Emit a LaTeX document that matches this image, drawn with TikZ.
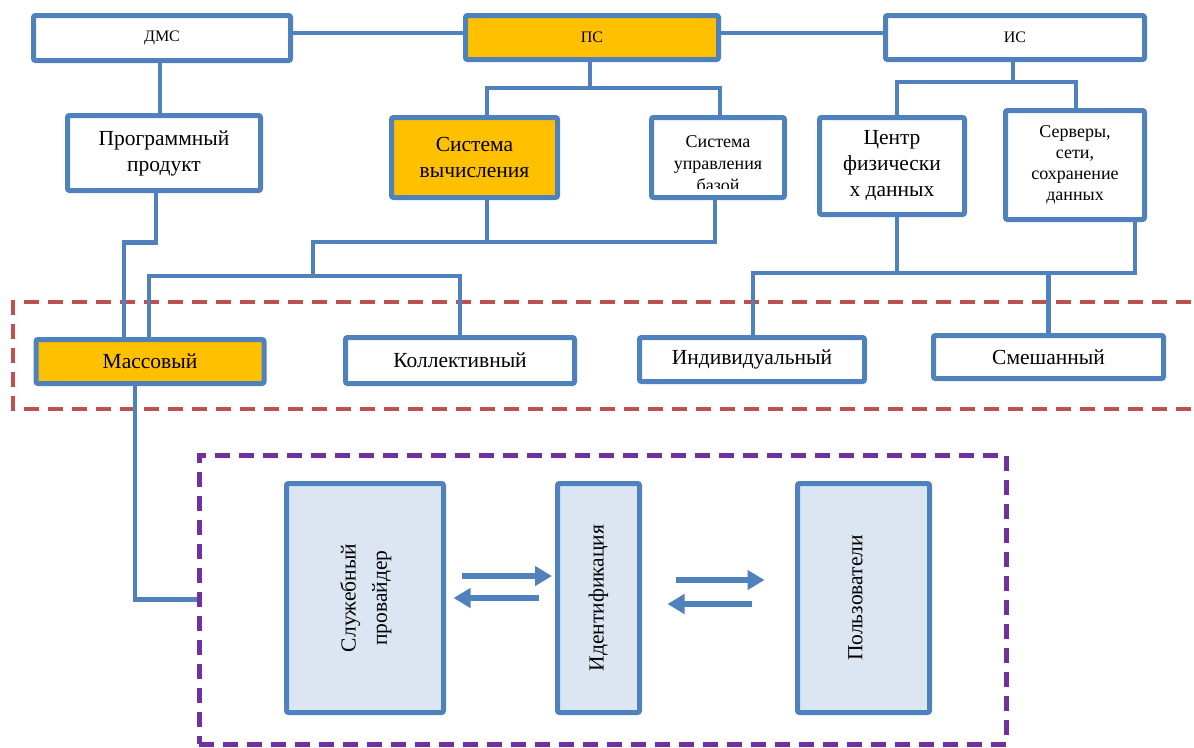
\documentclass[tikz,border=0pt]{standalone}
\usepackage{fontspec}
\setmainfont{Liberation Serif}
\usetikzlibrary{arrows.meta,calc}
\definecolor{bl}{HTML}{4F81BD}
\definecolor{orng}{HTML}{FFC000}
\definecolor{lb}{HTML}{DCE6F2}
\definecolor{rd}{HTML}{C0504D}
\definecolor{pp}{HTML}{7030A0}
\begin{document}
\begin{tikzpicture}[x=1pt,y=-1pt,
  box/.style={draw=bl, line width=5pt, rounded corners=2pt, fill=white, inner sep=0pt, align=center, text=black, font=\fontsize{21.5}{26}\selectfont},
  sz/.style 2 args={minimum width=#1pt, minimum height=#2pt},
  hl/.style={fill=orng},
  lblue/.style={fill=lb},
  small/.style={font=\fontsize{16}{18}\selectfont},
  conn/.style={draw=bl, line width=4.5pt},
  reddash/.style={draw=rd, line width=4.5pt, dash pattern=on 15pt off 9pt},
  purpdash/.style={draw=pp, line width=5pt, dash pattern=on 15pt off 9pt},
  arr/.style={draw=bl, line width=6pt, -{Triangle[length=17pt,width=19pt]}}
]
\useasboundingbox (0,0) rectangle (1194,747);
\clip (0,0) rectangle (1194,747);

% containers
\draw[reddash] (1215,302) -| (13,409) -- (1215,409);
\node[purpdash, inner sep=0pt, sz={807}{289}] (grp) at (602.5,599.5) {};

% top level
\node[box, small, sz={257}{45}] (dms) at (162,38) {ДМС};
\node[box, small, hl, sz={253}{44}] (ps) at (592,37.5) {ПС};
\node[box, small, sz={259}{44}] (is) at (1015,37.5) {ИС};

% second level
\node[box, sz={193}{75}] (prog) at (164,153) {Программный\\продукт};
\node[box, hl, sz={166}{80}] (sysv) at (474.5,157.5) {Система\\вычисления};
\node[box, sz={133}{80}] (sysu) at (718,157.5) {};
\begin{scope}
  \clip (651.5,117.5) rectangle (784.5,188);
  \node[font=\fontsize{18}{22}\selectfont, align=center, inner sep=0pt, anchor=north] (sysutext) at (718,135) {Система\\управления\\базой};
\end{scope}
\node[box, sz={145}{97}] (centr) at (892,166) {Центр\\физически\\х данных};
\node[box, font=\fontsize{18}{21}\selectfont, sz={139}{109}] (serv) at (1075,165) {Серверы,\\сети,\\сохранение\\данных};

% third level
\node[box, hl, sz={228}{44}] (mass) at (150,361.5) {Массовый};
\node[box, sz={229}{46}] (koll) at (460,360.5) {Коллективный};
\node[box, sz={225}{44}] (indiv) at (752,359.5) {Индивидуальный};
\node[box, sz={230}{43}] (smesh) at (1048.5,357) {Смешанный};

% bottom group
\node[box, lblue, sz={157}{229}] (prov) at (365,598) {\rotatebox{90}{\def\arraystretch{1.2}\begin{tabular}{@{}c@{}}Служебный\\провайдер\end{tabular}}};
\node[box, lblue, sz={82}{229}] (ident) at (598.5,598) {\rotatebox{90}{Идентификация}};
\node[box, lblue, sz={132}{229}] (users) at (863.5,598) {\rotatebox{90}{Пользователи}\rule{16pt}{0pt}};

% connectors top
\draw[conn] ([yshift=5pt]dms.east) -- ([yshift=4.5pt]ps.west);
\draw[conn] ([yshift=4.5pt]ps.east) -- ([yshift=4.5pt]is.west);
\draw[conn] ([xshift=-2pt]dms.south) -- ([xshift=-2pt]dms.south |- prog.north);

\coordinate (psj) at (590,88);
\draw[conn] (ps.south -| psj) -- (psj);
\draw[conn] ([xshift=12.5pt]sysv.north) |- (psj) -| ([xshift=2pt]sysu.north);

\coordinate (isj) at (1013,82);
\draw[conn] (is.south -| isj) -- (isj);
\draw[conn] ([xshift=5pt]centr.north) |- (isj) -| ([xshift=1pt]serv.north);

% connectors to third level
\draw[conn] ([xshift=-8pt]prog.south) -- ++(0,49.5) -| ([xshift=-26pt]mass.north);

\coordinate (cj) at (313,242);
\coordinate (cj2) at (313,276);
\draw[conn] ([xshift=12.5pt]sysv.south) -- ([xshift=12.5pt]sysv.south |- cj);
\draw[conn] ([xshift=-3pt]sysu.south) |- (cj) -- (cj2);
\draw[conn] ([xshift=-1pt]mass.north) |- (cj2) -| (koll.north);

\coordinate (rj) at (897,273);
\draw[conn] ([xshift=5pt]centr.south) -- ([xshift=5pt]centr.south |- rj);
\draw[conn] ([xshift=1pt]indiv.north) |- ([xshift=60pt]serv.south |- rj) -- ([xshift=60pt]serv.south);
\draw[conn] (smesh.north) -- (smesh.north |- rj);

% Массовый to group
\draw[conn] ([xshift=-15pt]mass.south) |- (grp.west);

% arrows
\draw[arr] ([xshift=15.5pt,yshift=22pt]prov.east) -- ([xshift=-3pt,yshift=22pt]ident.west);
\draw[arr] ([xshift=-16.5pt,yshift=0pt]ident.west) -- ([xshift=7.5pt,yshift=0pt]prov.east);
\draw[arr] ([xshift=33.5pt,yshift=18pt]ident.east) -- ([xshift=-30.5pt,yshift=18pt]users.west);
\draw[arr] ([xshift=-43.5pt,yshift=-6pt]users.west) -- ([xshift=25.5pt,yshift=-6pt]ident.east);
\end{tikzpicture}
\end{document}
